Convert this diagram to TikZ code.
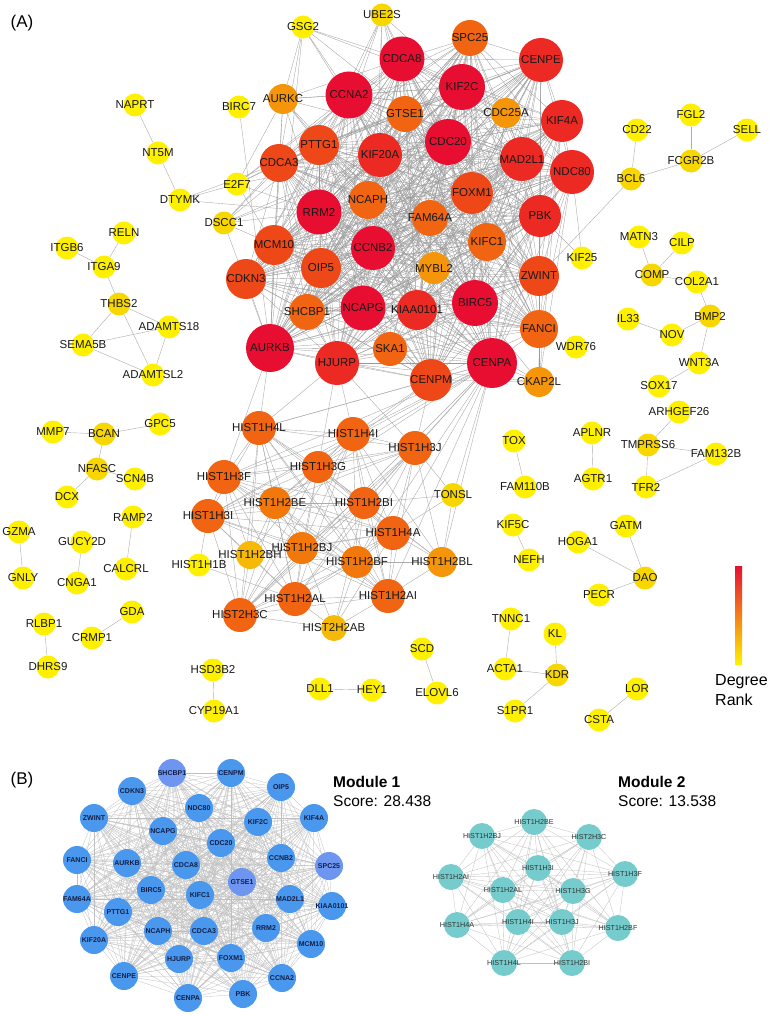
\documentclass[tikz,border=0pt]{standalone}
\usepackage{fontspec}
\setmainfont{Liberation Sans}
\pgfdeclarelayer{edges}
\pgfdeclarelayer{labels}
\pgfsetlayers{edges,main,labels}
\definecolor{yel}{RGB}{255,240,0}
\definecolor{yelb}{RGB}{248,214,0}
\definecolor{orga}{RGB}{246,185,8}
\definecolor{orgb}{RGB}{245,150,10}
\definecolor{orgc}{RGB}{242,120,12}
\definecolor{orgd}{RGB}{240,100,18}
\definecolor{reda}{RGB}{238,72,25}
\definecolor{redb}{RGB}{236,42,35}
\definecolor{redc}{RGB}{232,14,50}
\definecolor{blu}{RGB}{74,152,238}
\definecolor{blul}{RGB}{110,150,240}
\definecolor{tealn}{RGB}{118,204,204}
\definecolor{bltext}{RGB}{20,30,70}
\tikzset{
  nd/.style={circle,inner sep=0pt,draw=none},
  labA/.style={inner sep=0pt,text=black!90,font=\fontsize{11.5}{13}\selectfont},
  labB/.style={inner sep=0pt,text=bltext,font=\fontsize{7}{8}\selectfont\bfseries},
  labM/.style={inner sep=0pt,text=black!80,font=\fontsize{7.2}{8}\selectfont},
  ea/.style={draw=gray!65,line width=0.4pt},
  ce/.style={draw=gray!80,line width=0.3pt},
  eb/.style={draw=gray!50,line width=0.3pt},
}
\newcommand\gn[5]{\node[nd,minimum size=#4pt,fill=#5] (#1) at (#2,#3) {};
  \begin{pgfonlayer}{labels}\node[labA] (#1-l) at (#2,#3) {#1};\end{pgfonlayer}}
\newcommand\bn[4]{\node[nd,minimum size=28pt,fill=#4] (b#1) at (#2,#3) {};
  \begin{pgfonlayer}{labels}\node[labB] (b#1-l) at (#2,#3) {#1};\end{pgfonlayer}}
\newcommand\mn[3]{\node[nd,minimum size=26pt,fill=tealn] (m#1) at (#2,#3) {};
  \begin{pgfonlayer}{labels}\node[labM] (m#1-l) at (#2,#3) {#1};\end{pgfonlayer}}
\newcommand\clique[2]{\foreach \a [count=\i] in {#2} {\foreach \b [count=\j] in {#2} {\ifnum\j>\i\relax \draw[#1] (\a) -- (\b);\fi}}}
\newcommand\hub[3]{\foreach \b in {#3} {\draw[#1] (#2) -- (\b);}}
\begin{document}
\begin{tikzpicture}[x=1pt,y=-1pt]
\useasboundingbox (0,0) rectangle (769,1016);
\node[inner sep=0pt,font=\fontsize{17}{19}\selectfont] (labelA) at (22,23) {(A)};
\node[inner sep=0pt,font=\fontsize{17}{19}\selectfont] (labelB) at (22,780) {(B)};
% core
\gn{UBE2S}{382}{15}{23}{yelb}
\gn{GSG2}{303}{27}{23}{yel}
\gn{CDCA8}{402}{59}{45}{redc}
\gn{SPC25}{470}{38}{36}{orgd}
\gn{KIF2C}{462}{87}{46}{redc}
\gn{CCNA2}{349}{95}{47}{redc}
\gn{AURKC}{283}{99}{30}{orgb}
\gn{BIRC7}{239}{107}{23}{yel}
\gn{GTSE1}{405}{114}{36}{orgd}
\gn{CENPE}{541}{60}{44}{redb}
\gn{CDC25A}{506}{113}{30}{orgb}
\gn{KIF4A}{562}{121}{42}{redb}
\gn{CDC20}{448}{142}{46}{redc}
\gn{PTTG1}{319}{145}{40}{reda}
\gn{KIF20A}{380}{155}{44}{redb}
\gn{CDCA3}{279}{163}{38}{reda}
\gn{E2F7}{237}{184}{23}{yel}
\gn{MAD2L1}{522}{159}{44}{redb}
\gn{NDC80}{572}{172}{44}{redb}
\gn{NCAPH}{368}{200}{38}{orgd}
\gn{RRM2}{319}{212}{45}{redc}
\gn{FOXM1}{472}{193}{42}{reda}
\gn{FAM64A}{430}{218}{36}{orgd}
\gn{DSCC1}{224}{223}{23}{yelb}
\gn{MCM10}{274}{245}{40}{reda}
\gn{KIFC1}{487}{242}{38}{orgd}
\gn{CCNB2}{373}{248}{44}{redc}
\gn{PBK}{540}{216}{42}{redb}
\gn{OIP5}{321}{268}{40}{reda}
\gn{MYBL2}{434}{268}{32}{orgb}
\gn{CDKN3}{246}{279}{40}{reda}
\gn{ZWINT}{539}{276}{40}{reda}
\gn{BIRC5}{475}{303}{46}{redc}
\gn{SHCBP1}{307}{312}{36}{orgd}
\gn{NCAPG}{363}{308}{45}{redc}
\gn{KIAA0101}{417}{310}{40}{redb}
\gn{AURKB}{270}{348}{48}{redc}
\gn{SKA1}{390}{349}{34}{orgd}
\gn{HJURP}{337}{363}{44}{redb}
\gn{FANCI}{539}{329}{38}{orgd}
\gn{CENPA}{492}{363}{50}{redc}
\gn{CENPM}{431}{380}{42}{reda}
\gn{CKAP2L}{539}{382}{30}{orgb}
\gn{WDR76}{576}{347}{23}{yel}
\gn{KIF25}{582}{258}{23}{yel}
\gn{DTYMK}{180}{200}{23}{yel}
\gn{NT5M}{158}{153}{23}{yel}
\gn{NAPRT}{135}{105}{23}{yel}
% left groups
\gn{RELN}{124}{233}{23}{yel}
\gn{ITGB6}{67}{248}{23}{yel}
\gn{ITGA9}{104}{267}{23}{yel}
\gn{THBS2}{119}{304}{23}{yelb}
\gn{ADAMTS18}{169}{327}{23}{yel}
\gn{SEMA5B}{83}{345}{23}{yel}
\gn{ADAMTSL2}{153}{375}{23}{yel}
\gn{MMP7}{53}{432}{23}{yel}
\gn{BCAN}{104}{434}{23}{yelb}
\gn{GPC5}{160}{424}{23}{yel}
\gn{NFASC}{97}{469}{23}{yelb}
\gn{SCN4B}{135}{479}{23}{yel}
\gn{DCX}{67}{497}{23}{yel}
\gn{RAMP2}{133}{517}{23}{yel}
\gn{GZMA}{19}{532}{23}{yel}
\gn{GUCY2D}{82}{542}{23}{yel}
\gn{CALCRL}{126}{569}{23}{yel}
\gn{GNLY}{23}{578}{23}{yel}
\gn{CNGA1}{77}{583}{23}{yel}
\gn{GDA}{132}{612}{23}{yel}
\gn{RLBP1}{44}{624}{23}{yel}
\gn{CRMP1}{92}{638}{23}{yel}
\gn{DHRS9}{48}{667}{23}{yel}
\gn{HSD3B2}{213}{670}{23}{yel}
\gn{CYP19A1}{214}{711}{23}{yel}
\gn{DLL1}{320}{689}{23}{yel}
\gn{HEY1}{372}{690}{23}{yel}
\gn{SCD}{422}{649}{23}{yel}
\gn{ELOVL6}{437}{693}{23}{yel}
% right groups
\gn{CD22}{637}{130}{23}{yel}
\gn{FGL2}{691}{115}{23}{yel}
\gn{SELL}{747}{130}{23}{yel}
\gn{FCGR2B}{691}{161}{23}{yelb}
\gn{BCL6}{631}{179}{23}{yelb}
\gn{MATN3}{639}{237}{23}{yel}
\gn{CILP}{682}{243}{23}{yel}
\gn{COMP}{652}{275}{23}{yelb}
\gn{COL2A1}{697}{282}{23}{yel}
\gn{IL33}{628}{319}{23}{yel}
\gn{NOV}{672}{335}{23}{yel}
\gn{BMP2}{710}{316}{23}{yelb}
\gn{WNT3A}{699}{363}{23}{yel}
\gn{SOX17}{659}{386}{23}{yel}
\gn{ARHGEF26}{679}{412}{23}{yel}
\gn{TOX}{514}{441}{23}{yel}
\gn{APLNR}{592}{433}{23}{yel}
\gn{TMPRSS6}{648}{445}{23}{yelb}
\gn{FAM132B}{716}{454}{23}{yel}
\gn{FAM110B}{525}{487}{23}{yel}
\gn{AGTR1}{593}{479}{23}{yel}
\gn{TFR2}{646}{487}{23}{yel}
\gn{KIF5C}{513}{525}{23}{yel}
\gn{NEFH}{529}{560}{23}{yel}
\gn{GATM}{626}{526}{23}{yel}
\gn{HOGA1}{578}{542}{23}{yel}
\gn{DAO}{645}{578}{23}{yelb}
\gn{PECR}{599}{595}{23}{yel}
\gn{TNNC1}{511}{619}{23}{yel}
\gn{KL}{555}{634}{23}{yel}
\gn{ACTA1}{505}{669}{23}{yel}
\gn{KDR}{557}{675}{23}{yelb}
\gn{S1PR1}{515}{711}{23}{yel}
\gn{LOR}{637}{689}{23}{yel}
\gn{CSTA}{599}{720}{23}{yel}
% histones
\gn{HIST1H4L}{259}{428}{34}{orgd}
\gn{HIST1H4I}{353}{434}{34}{orgd}
\gn{HIST1H3J}{415}{448}{34}{orgd}
\gn{HIST1H3G}{318}{467}{32}{orgd}
\gn{HIST1H3F}{224}{477}{34}{orgd}
\gn{TONSL}{453}{495}{24}{yelb}
\gn{HIST1H2BE}{275}{503}{32}{orgc}
\gn{HIST1H2BI}{364}{503}{32}{orgd}
\gn{HIST1H3I}{208}{516}{34}{orgd}
\gn{HIST1H4A}{393}{533}{34}{orgd}
\gn{HIST1H2BJ}{302}{548}{32}{orgc}
\gn{HIST1H2BH}{250}{555}{28}{orga}
\gn{HIST1H2BF}{357}{562}{32}{orgc}
\gn{HIST1H2BL}{442}{562}{30}{orgb}
\gn{HIST1H1B}{199}{565}{23}{yel}
\gn{HIST1H2AL}{295}{599}{34}{orgd}
\gn{HIST1H2AI}{388}{596}{34}{orgd}
\gn{HIST2H3C}{240}{615}{34}{orgd}
\gn{HIST2H2AB}{334}{628}{26}{orga}
% colour bar
\shade[top color=redc,middle color=orgd,bottom color=yel] (735,566) rectangle (742,664);
\node[inner sep=0pt,anchor=west,font=\fontsize{16}{18}\selectfont] (deg) at (715,682) {Degree};
\node[inner sep=0pt,anchor=west,font=\fontsize{16}{18}\selectfont] (rank) at (715,700) {Rank};
% part B
\bn{SHCBP1}{172}{773}{blul}
\bn{CENPM}{231}{773}{blu}
\bn{OIP5}{281}{787}{blu}
\bn{CDKN3}{132}{791}{blu}
\bn{NDC80}{199}{808}{blu}
\bn{KIF4A}{314}{818}{blu}
\bn{ZWINT}{94}{818}{blu}
\bn{KIF2C}{258}{822}{blu}
\bn{NCAPG}{163}{831}{blu}
\bn{CDC20}{221}{843}{blu}
\bn{FANCI}{77}{860}{blu}
\bn{AURKB}{127}{863}{blu}
\bn{CDCA8}{186}{865}{blu}
\bn{CCNB2}{281}{858}{blu}
\bn{SPC25}{329}{866}{blul}
\bn{GTSE1}{242}{882}{blul}
\bn{BIRC5}{151}{890}{blu}
\bn{KIFC1}{200}{895}{blu}
\bn{MAD2L1}{290}{899}{blu}
\bn{FAM64A}{77}{899}{blu}
\bn{KIAA0101}{332}{906}{blu}
\bn{PTTG1}{118}{912}{blu}
\bn{NCAPH}{158}{931}{blu}
\bn{CDCA3}{204}{931}{blu}
\bn{RRM2}{266}{928}{blu}
\bn{MCM10}{311}{944}{blu}
\bn{KIF20A}{94}{940}{blu}
\bn{HJURP}{179}{959}{blu}
\bn{FOXM1}{231}{958}{blu}
\bn{CENPE}{124}{976}{blu}
\bn{CCNA2}{282}{978}{blu}
\bn{CENPA}{188}{998}{blu}
\bn{PBK}{243}{994}{blu}
\mn{HIST1H2BE}{534}{822}
\mn{HIST1H2BJ}{482}{836}
\mn{HIST2H3C}{589}{837}
\mn{HIST1H3I}{538}{868}
\mn{HIST1H2AI}{451}{877}
\mn{HIST1H3F}{625}{874}
\mn{HIST1H2AL}{503}{890}
\mn{HIST1H3G}{573}{891}
\mn{HIST1H4A}{457}{925}
\mn{HIST1H4I}{518}{922}
\mn{HIST1H3J}{562}{922}
\mn{HIST1H2BF}{618}{928}
\mn{HIST1H4L}{504}{963}
\mn{HIST1H2BI}{572}{963}
\node[inner sep=0pt,anchor=west,font=\fontsize{15.5}{17}\selectfont\bfseries] (mod1) at (333,782) {Module 1};
\node[inner sep=0pt,anchor=west,font=\fontsize{15.5}{17}\selectfont] (sc1) at (333,801) {Score: 28.438};
\node[inner sep=0pt,anchor=west,font=\fontsize{15.5}{17}\selectfont\bfseries] (mod2) at (618,782) {Module 2};
\node[inner sep=0pt,anchor=west,font=\fontsize{15.5}{17}\selectfont] (sc2) at (618,801) {Score: 13.538};
% edges
\begin{pgfonlayer}{edges}
\clique{ce}{SHCBP1,CENPM,OIP5,CDKN3,NDC80,KIF4A,ZWINT,NCAPG,KIF2C,CDC20,FANCI,AURKB,CDCA8,CCNB2,SPC25,GTSE1,BIRC5,KIFC1,MAD2L1,FAM64A,KIAA0101,PTTG1,NCAPH,CDCA3,RRM2,MCM10,KIF20A,HJURP,FOXM1,CENPE,CCNA2,CENPA,PBK}
\hub{ce}{UBE2S}{CDCA8,CCNA2,KIF2C,CDC20,KIF20A,GTSE1,CCNB2,PTTG1,AURKB,BIRC5}
\hub{ce}{GSG2}{CDCA3,AURKC,CCNA2,CDCA8,KIF2C,AURKB,BIRC5,CDC20}
\hub{ce}{AURKC}{CCNA2,CDCA3,PTTG1,AURKB,BIRC5,CDCA8,KIF2C,NCAPH,RRM2,CDC20}
\hub{ce}{E2F7}{CDCA3,AURKC,CCNA2,PTTG1,CDCA8,MCM10,RRM2,KIF20A}
\hub{ce}{DSCC1}{CDCA3,MCM10,PTTG1,RRM2,CCNA2,CDC20,KIF20A,AURKB}
\hub{ce}{CDC25A}{CDC20,CCNA2,CCNB2,FOXM1,PBK,KIF2C,CENPE,MAD2L1,BIRC5,AURKB,CDCA8,KIFC1,NCAPG}
\hub{ce}{MYBL2}{FOXM1,CCNB2,BIRC5,CDC20,CCNA2,AURKB,MAD2L1,KIF20A,CENPA,RRM2,MCM10,NCAPG,PBK}
\hub{ce}{SKA1}{CENPE,NDC80,KIF2C,CDCA8,CENPA,SPC25,ZWINT,BIRC5,AURKB,HJURP,CCNB2,NCAPG,KIAA0101,CENPM}
\hub{ce}{CKAP2L}{CENPA,FANCI,ZWINT,PBK,BIRC5,CENPM,NDC80,KIF4A,KIAA0101,HJURP,CENPE}
\hub{ea}{DTYMK}{E2F7,RRM2,CDCA3,NT5M}
\hub{ea}{KIF25}{NDC80,PBK}
\hub{ea}{BIRC7}{AURKB}
\hub{ea}{BCL6}{ZWINT,CD22,FCGR2B}
\clique{ea}{HIST1H2BE,HIST1H2BJ,HIST2H3C,HIST1H3I,HIST1H3F,HIST1H2AI,HIST1H2AL,HIST1H3G,HIST1H4A,HIST1H4I,HIST1H3J,HIST1H2BF,HIST1H4L,HIST1H2BI}
\hub{ea}{CENPA}{HIST1H4L,HIST1H4I,HIST1H3J,HIST1H3G,HIST1H3F,HIST1H3I,HIST1H4A,HIST1H2BI,HIST1H2BE,HIST2H3C,HIST1H2BF,HIST1H2AI,TONSL,HIST1H2BL}
\hub{ea}{HJURP}{HIST1H4L,HIST1H4I,HIST1H3J,HIST1H3G}
\hub{ea}{CENPM}{HIST1H4I,HIST1H3J,HIST1H3G,HIST1H4L}
\hub{ea}{AURKB}{HIST1H3F,HIST1H4L}
\hub{ea}{HIST1H2BH}{HIST1H3I,HIST1H3F,HIST1H2AL,HIST2H3C,HIST1H2BE,HIST1H2BJ,HIST1H4L,HIST1H3G,HIST1H2BF,HIST1H4A}
\hub{ea}{HIST1H2BL}{HIST1H4A,HIST1H2BF,HIST1H3J,HIST1H2AI,HIST1H2BI,HIST1H3G,TONSL,HIST1H4I}
\hub{ea}{HIST2H2AB}{HIST1H2AL,HIST1H2AI,HIST2H3C,HIST1H2BJ,HIST1H2BF,HIST1H4A,HIST1H2BI}
\hub{ea}{HIST1H1B}{HIST1H3I,HIST1H2AL}
\hub{ea}{TONSL}{HIST1H3J,HIST1H4A,HIST1H2BI}
\foreach \u/\v in {NAPRT/NT5M,RELN/ITGA9,ITGB6/ITGA9,ITGA9/THBS2,THBS2/ADAMTS18,THBS2/SEMA5B,THBS2/ADAMTSL2,SEMA5B/ADAMTS18,SEMA5B/ADAMTSL2,ADAMTS18/ADAMTSL2,MMP7/BCAN,BCAN/GPC5,BCAN/NFASC,NFASC/SCN4B,NFASC/DCX,RAMP2/CALCRL,GZMA/GNLY,GUCY2D/CNGA1,GDA/CRMP1,RLBP1/DHRS9,HSD3B2/CYP19A1,DLL1/HEY1,SCD/ELOVL6,FGL2/FCGR2B,SELL/FCGR2B,MATN3/COMP,CILP/COMP,COMP/COL2A1,COL2A1/BMP2,IL33/NOV,NOV/BMP2,BMP2/WNT3A,WNT3A/SOX17,ARHGEF26/TMPRSS6,TMPRSS6/FAM132B,TMPRSS6/TFR2,TFR2/FAM132B,TOX/FAM110B,APLNR/AGTR1,KIF5C/NEFH,GATM/DAO,HOGA1/DAO,PECR/DAO,TNNC1/ACTA1,KL/KDR,ACTA1/KDR,KDR/S1PR1,LOR/CSTA}
  {\draw[ea] (\u) -- (\v);}
\clique{eb}{bSHCBP1,bCENPM,bOIP5,bCDKN3,bNDC80,bKIF4A,bZWINT,bKIF2C,bNCAPG,bCDC20,bFANCI,bAURKB,bCDCA8,bCCNB2,bSPC25,bGTSE1,bBIRC5,bKIFC1,bMAD2L1,bFAM64A,bKIAA0101,bPTTG1,bNCAPH,bCDCA3,bRRM2,bMCM10,bKIF20A,bHJURP,bFOXM1,bCENPE,bCCNA2,bCENPA,bPBK}
\clique{eb}{mHIST1H2BE,mHIST1H2BJ,mHIST2H3C,mHIST1H3I,mHIST1H2AI,mHIST1H3F,mHIST1H2AL,mHIST1H3G,mHIST1H4A,mHIST1H4I,mHIST1H3J,mHIST1H2BF,mHIST1H4L,mHIST1H2BI}
\end{pgfonlayer}
\end{tikzpicture}
\end{document}
